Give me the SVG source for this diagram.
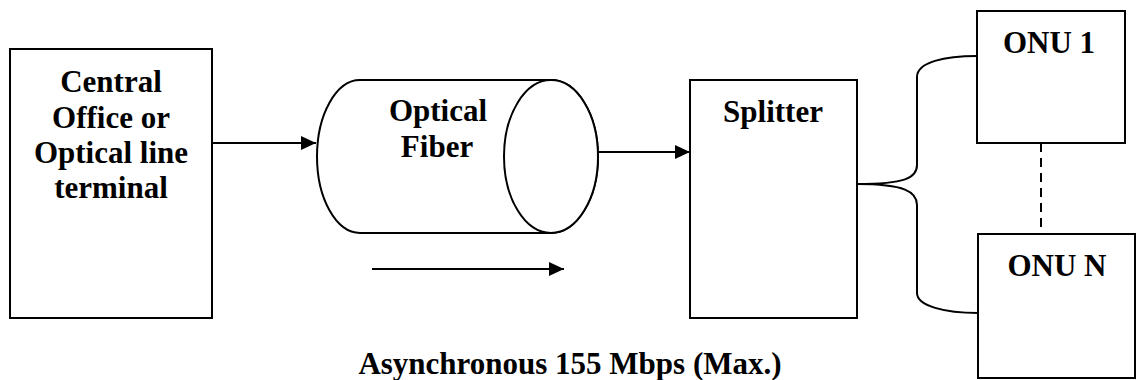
<svg xmlns="http://www.w3.org/2000/svg" width="1137" height="380" viewBox="0 0 1137 380">
<style>
.box{fill:#fff;stroke:#000;stroke-width:2}
.ln{fill:none;stroke:#000;stroke-width:2}
.t{font-family:"Liberation Serif","Times New Roman",serif;font-weight:bold;font-size:31px;fill:#000;text-anchor:middle}
</style>
<defs>
<marker id="ah" viewBox="0 0 15 14" refX="15" refY="7" markerWidth="15" markerHeight="14" markerUnits="userSpaceOnUse" orient="auto">
<path d="M0,0 L15,7 L0,14 Z" fill="#000"/>
</marker>
</defs>
<g id="olt">
<rect class="box" x="10" y="49" width="202" height="269"/>
<text class="t" x="111" y="92">Central</text>
<text class="t" x="111" y="128">Office or</text>
<text class="t" x="111" y="163">Optical line</text>
<text class="t" x="111" y="198">terminal</text>
</g>
<g id="fiber">
<path class="box" d="M360,80 L551,80 A47,76.5 0 0 1 551,233 L360,233 A43,76.5 0 0 1 360,80 Z"/>
<ellipse class="box" cx="551" cy="156.5" rx="47" ry="76.5"/>
<text class="t" x="438" y="121">Optical</text>
<text class="t" x="437" y="157">Fiber</text>
</g>
<g id="splitter">
<rect class="box" x="690" y="80" width="167" height="238"/>
<text class="t" x="773" y="122">Splitter</text>
</g>
<g id="onu1">
<rect class="box" x="977" y="11" width="148" height="132"/>
<text class="t" x="1049" y="53">ONU 1</text>
</g>
<g id="onun">
<rect class="box" x="978" y="234" width="157" height="144"/>
<text class="t" x="1057" y="276">ONU N</text>
</g>
<g id="connectors">
<line class="ln" x1="212" y1="143" x2="316" y2="143" marker-end="url(#ah)"/>
<line class="ln" x1="598" y1="152" x2="690" y2="152" marker-end="url(#ah)"/>
<line class="ln" x1="372" y1="269" x2="564" y2="269" marker-end="url(#ah)"/>
<path class="ln" d="M857,184 C905,184 917,178 917,165 L917,77 C917,62 945,56 977,56"/>
<path class="ln" d="M857,184 C905,184 917,192 917,205 L917,293 C917,306 945,313 978,313"/>
<line class="ln" x1="1041" y1="143" x2="1041" y2="234" stroke-dasharray="9,6"/>
</g>
<text class="t" x="570" y="374">Asynchronous 155 Mbps (Max.)</text>
</svg>
